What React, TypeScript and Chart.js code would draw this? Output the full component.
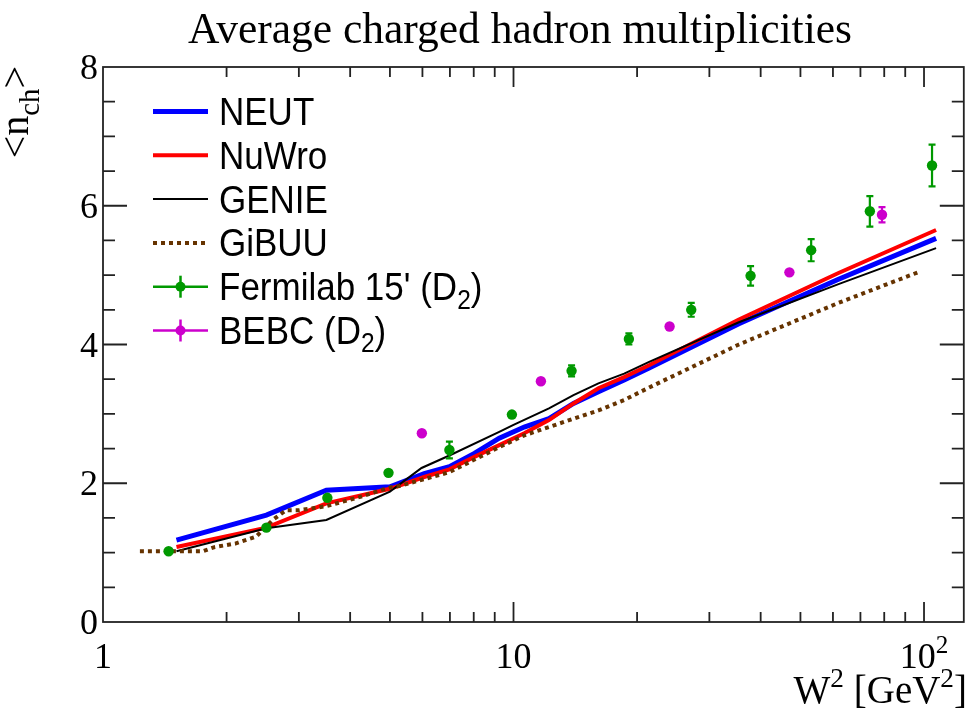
import React, { useEffect, useRef } from "react";
import { Chart, registerables } from "chart.js";

Chart.register(...registerables);

const CANVAS_W = 969;
const CANVAS_H = 714;

const chartTitle = "Average charged hadron multiplicities";
const xMin = 1;
const xMax = 125;
const yMin = 0;
const yMax = 8;
const yTickLabels = [0, 2, 4, 6, 8];
const xTickLabels = [1, 10, 100];

// Generator predictions: W² [GeV²] and mean charged-hadron multiplicity
const neutW2 = [1.51, 2.5, 3.5, 5.0, 6.06, 6.98, 8.03, 9.23, 10.62, 12.2, 14.0, 16.1, 18.6, 21.4, 35.4, 61.9, 107];
const neutN = [1.18, 1.54, 1.9, 1.95, 2.14, 2.24, 2.43, 2.65, 2.81, 2.93, 3.15, 3.32, 3.49, 3.66, 4.3, 4.94, 5.53];

const nuwroW2 = [1.51, 2.5, 3.5, 5.0, 6.06, 6.98, 8.03, 9.23, 10.62, 12.2, 14.0, 16.1, 18.6, 21.4, 35.4, 61.9, 107];
const nuwroN = [1.08, 1.36, 1.71, 1.92, 2.09, 2.2, 2.38, 2.55, 2.72, 2.91, 3.15, 3.37, 3.53, 3.7, 4.36, 5.03, 5.65];

const genieW2 = [1.51, 2.5, 3.5, 5.0, 5.97, 6.98, 9.23, 10.0, 12.2, 14.0, 16.1, 18.6, 21.4, 35.4, 61.9, 107];
const genieN = [1.02, 1.35, 1.47, 1.88, 2.22, 2.4, 2.74, 2.84, 3.08, 3.27, 3.44, 3.58, 3.75, 4.32, 4.87, 5.39];

const gibuuW2 = [1.23, 1.45, 1.75, 1.87, 2.1, 2.36, 2.59, 2.79, 3.0, 3.5, 4.21, 5.0, 5.27, 6.98, 9.23, 10.62, 12.2, 14.0, 16.1, 18.6, 21.4, 35.4, 61.9, 97.6];
const gibuuN = [1.02, 1.02, 1.02, 1.08, 1.13, 1.23, 1.47, 1.61, 1.61, 1.67, 1.8, 1.94, 1.96, 2.16, 2.52, 2.69, 2.81, 2.93, 3.05, 3.2, 3.38, 4.0, 4.6, 5.05];

// Bubble-chamber measurements on deuterium
const fnalW2 = [1.445, 2.5, 3.52, 4.96, 6.98, 9.91, 13.85, 19.1, 27.1, 37.8, 53.1, 73.8, 104.6];
const fnalN = [1.02, 1.36, 1.79, 2.15, 2.48, 2.99, 3.62, 4.08, 4.5, 4.99, 5.36, 5.92, 6.58];
const fnalErr = [0.03, 0.04, 0.05, 0.04, 0.12, 0.06, 0.08, 0.08, 0.1, 0.14, 0.16, 0.22, 0.3];

const bebcW2 = [5.98, 11.66, 24.0, 47.0, 79.0];
const bebcN = [2.72, 3.47, 4.26, 5.04, 5.87];
const bebcErr = [0.03, 0.03, 0.04, 0.05, 0.11];

const BLUE = "#0000ff";
const RED = "#ff0000";
const BLACK = "#000000";
const BROWN = "#663300";
const GREEN = "#009900";
const MAGENTA = "#cc00cc";

const SERIF = '"Liberation Serif", "Times New Roman", serif';
const SANS = '"Liberation Sans", Arial, Helvetica, sans-serif';

type Run = { t: string; s?: number; dy?: number };

const pts = (xs: number[], ys: number[]) => xs.map((x, i) => ({ x, y: ys[i] }));

// Draw a sequence of text runs (for super/subscripts) with a shared baseline.
function drawRuns(
  ctx: CanvasRenderingContext2D,
  runs: Run[],
  family: string,
  size: number,
  x: number,
  y: number,
  align: "left" | "center" | "right",
  color: string,
  stretchY = 1
) {
  ctx.save();
  ctx.translate(x, y);
  ctx.scale(1, stretchY);
  ctx.fillStyle = color;
  ctx.textBaseline = "alphabetic";
  ctx.textAlign = "left";
  const widths = runs.map((r) => {
    ctx.font = `${size * (r.s ?? 1)}px ${family}`;
    return ctx.measureText(r.t).width;
  });
  const total = widths.reduce((a, b) => a + b, 0);
  let cx = align === "left" ? 0 : align === "center" ? -total / 2 : -total;
  runs.forEach((r, i) => {
    ctx.font = `${size * (r.s ?? 1)}px ${family}`;
    ctx.fillText(r.t, cx, (r.dy ?? 0) * size);
    cx += widths[i];
  });
  ctx.restore();
}

const errorMap: Record<string, number[]> = {
  fnal: fnalErr,
  bebc: bebcErr,
};

const errorBarPlugin = {
  id: "errorBars",
  beforeDatasetDraw(chart: any, args: any) {
    const ds = chart.data.datasets[args.index];
    const errs = errorMap[ds.key];
    if (!errs) return;
    const ctx: CanvasRenderingContext2D = chart.ctx;
    const xs = chart.scales.x;
    const ys = chart.scales.y;
    ctx.save();
    ctx.strokeStyle = ds.borderColor;
    ctx.lineWidth = 2.2;
    ds.data.forEach((p: any, i: number) => {
      const px = xs.getPixelForValue(p.x);
      const top = ys.getPixelForValue(p.y + errs[i]);
      const bot = ys.getPixelForValue(p.y - errs[i]);
      ctx.beginPath();
      ctx.moveTo(px, top);
      ctx.lineTo(px, bot);
      if (bot - top > 10) {
        ctx.moveTo(px - 3.5, top);
        ctx.lineTo(px + 3.5, top);
        ctx.moveTo(px - 3.5, bot);
        ctx.lineTo(px + 3.5, bot);
      }
      ctx.stroke();
    });
    ctx.restore();
  },
};

const framePlugin = {
  id: "frameAxes",
  afterDatasetsDraw(chart: any) {
    const ctx: CanvasRenderingContext2D = chart.ctx;
    const { left, right, top, bottom } = chart.chartArea;
    const xs = chart.scales.x;
    const ys = chart.scales.y;
    ctx.save();
    ctx.strokeStyle = "#222";
    ctx.lineWidth = 1.8;
    ctx.strokeRect(left, top, right - left, bottom - top);

    ctx.beginPath();
    // x ticks (log axis), bottom and top, pointing inwards
    for (let d = 0; d <= 2; d++) {
      for (let k = 1; k <= 9; k++) {
        const v = k * Math.pow(10, d);
        if (v <= xMin || v >= xMax) continue;
        const px = xs.getPixelForValue(v);
        const len = k === 1 ? 20 : 10;
        ctx.moveTo(px, bottom);
        ctx.lineTo(px, bottom - len);
        ctx.moveTo(px, top);
        ctx.lineTo(px, top + len);
      }
    }
    // y ticks every 0.5, major every 2, left and right
    for (let v = yMin + 0.5; v < yMax; v += 0.5) {
      const py = ys.getPixelForValue(v);
      const len = Math.abs(v % 2) < 1e-6 ? 24 : 12;
      ctx.moveTo(left, py);
      ctx.lineTo(left + len, py);
      ctx.moveTo(right, py);
      ctx.lineTo(right - len, py);
    }
    ctx.stroke();
    ctx.restore();

    // tick labels
    yTickLabels.forEach((v) => {
      const py = ys.getPixelForValue(v);
      drawRuns(ctx, [{ t: String(v) }], SERIF, 36, 98, py + 12, "right", "#000");
    });
    xTickLabels.forEach((v) => {
      const px = xs.getPixelForValue(v);
      const runs: Run[] = v === 100 ? [{ t: "10" }, { t: "2", s: 0.7, dy: -0.42 }] : [{ t: String(v) }];
      drawRuns(ctx, runs, SERIF, 36, px, 668, "center", "#000");
    });

    // axis titles
    drawRuns(
      ctx,
      [{ t: "W" }, { t: "2", s: 0.7, dy: -0.42 }, { t: " [GeV" }, { t: "2", s: 0.7, dy: -0.42 }, { t: "]" }],
      SERIF,
      39,
      967,
      703,
      "right",
      "#000"
    );
    ctx.save();
    ctx.translate(28, 66);
    ctx.rotate(-Math.PI / 2);
    drawRuns(ctx, [{ t: "<n" }, { t: "ch", s: 0.72, dy: 0.28 }, { t: ">" }], SERIF, 40, 0, 0, "right", "#000");
    ctx.restore();

    // title
    drawRuns(ctx, [{ t: chartTitle }], SERIF, 43.5, 520, 43, "center", "#000");
  },
};

type LegendEntry = {
  runs: Run[];
  color: string;
  width: number;
  dash?: number[];
  marker?: boolean;
};

const legendEntries: LegendEntry[] = [
  { runs: [{ t: "NEUT" }], color: BLUE, width: 5 },
  { runs: [{ t: "NuWro" }], color: RED, width: 4 },
  { runs: [{ t: "GENIE" }], color: BLACK, width: 2 },
  { runs: [{ t: "GiBUU" }], color: BROWN, width: 4, dash: [4, 4] },
  { runs: [{ t: "Fermilab 15' (D" }, { t: "2", s: 0.7, dy: 0.22 }, { t: ")" }], color: GREEN, width: 2.5, marker: true },
  { runs: [{ t: "BEBC (D" }, { t: "2", s: 0.7, dy: 0.22 }, { t: ")" }], color: MAGENTA, width: 2.5, marker: true },
];

const legendPlugin = {
  id: "rootLegend",
  afterDraw(chart: any) {
    const ctx: CanvasRenderingContext2D = chart.ctx;
    const x0 = 153;
    const x1 = 208;
    const y0 = 111.5;
    const step = 43.8;
    legendEntries.forEach((e, i) => {
      const y = y0 + i * step;
      ctx.save();
      ctx.strokeStyle = e.color;
      ctx.lineWidth = e.width;
      ctx.setLineDash(e.dash ?? []);
      ctx.beginPath();
      ctx.moveTo(x0, y);
      ctx.lineTo(x1, y);
      ctx.stroke();
      if (e.marker) {
        const mx = (x0 + x1) / 2;
        ctx.beginPath();
        ctx.moveTo(mx, y - 11);
        ctx.lineTo(mx, y + 11);
        ctx.stroke();
        ctx.fillStyle = e.color;
        ctx.beginPath();
        ctx.arc(mx, y, 5, 0, Math.PI * 2);
        ctx.fill();
      }
      ctx.restore();
      drawRuns(ctx, e.runs, SANS, 35, 219, y + 13.5, "left", "#000", 1.1);
    });
  },
};

export default function App() {
  const canvasRef = useRef<HTMLCanvasElement | null>(null);

  useEffect(() => {
    const canvas = canvasRef.current;
    if (!canvas) return;
    const lineSet = (key: string, xs: number[], ys: number[], color: string, width: number, order: number, dash?: number[]) => ({
      key,
      data: pts(xs, ys),
      showLine: true,
      borderColor: color,
      backgroundColor: color,
      borderWidth: width,
      borderDash: dash ?? [],
      pointRadius: 0,
      pointHoverRadius: 0,
      tension: 0,
      order,
    });
    const markerSet = (key: string, xs: number[], ys: number[], color: string, order: number) => ({
      key,
      data: pts(xs, ys),
      showLine: false,
      borderColor: color,
      backgroundColor: color,
      borderWidth: 0,
      pointRadius: 5.2,
      pointHoverRadius: 5.2,
      pointStyle: "circle",
      order,
    });

    const chart = new Chart(canvas, {
      type: "scatter",
      data: {
        datasets: [
          markerSet("fnal", fnalW2, fnalN, GREEN, 0),
          markerSet("bebc", bebcW2, bebcN, MAGENTA, 1),
          lineSet("gibuu", gibuuW2, gibuuN, BROWN, 4, 2, [4, 4]),
          lineSet("genie", genieW2, genieN, BLACK, 2, 3),
          lineSet("nuwro", nuwroW2, nuwroN, RED, 4, 4),
          lineSet("neut", neutW2, neutN, BLUE, 5, 5),
        ] as any,
      },
      options: {
        responsive: false,
        animation: false,
        events: [],
        layout: { padding: { left: 103, right: 4, top: 67, bottom: 92 } },
        scales: {
          x: { type: "logarithmic", min: xMin, max: xMax, display: false },
          y: { type: "linear", min: yMin, max: yMax, display: false },
        },
        plugins: {
          legend: { display: false },
          tooltip: { enabled: false },
          title: { display: false },
        },
      } as any,
      plugins: [errorBarPlugin, framePlugin, legendPlugin] as any,
    });
    return () => chart.destroy();
  }, []);

  return (
    <div style={{ position: "fixed", left: 0, top: 0, width: CANVAS_W, height: CANVAS_H, background: "#fff" }}>
      <canvas ref={canvasRef} width={CANVAS_W} height={CANVAS_H} style={{ display: "block" }} />
    </div>
  );
}
